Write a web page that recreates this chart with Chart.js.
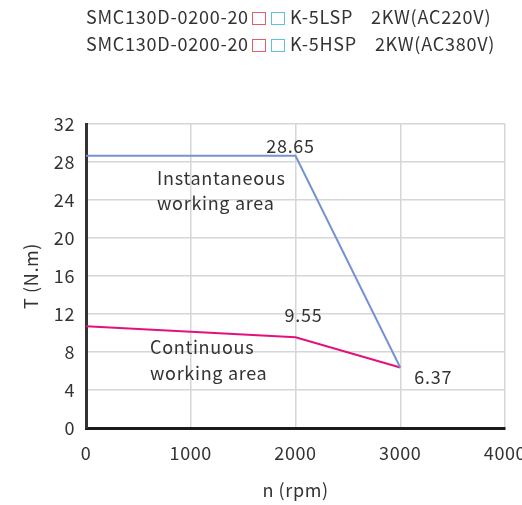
<!DOCTYPE html>
<html>
<head>
<meta charset="utf-8">
<script src="https://cdn.jsdelivr.net/npm/chart.js@4/dist/chart.umd.min.js"></script>
<style>
  html, body { margin: 0; padding: 0; background: #fff; }
  #wrap { position: relative; width: 522px; height: 505px; }
  #head {
    position: absolute; left: 86px; top: 3px;
    font-family: "Noto Sans CJK SC", "Noto Sans", sans-serif;
    font-size: 18px; line-height: 27px; color: #333; letter-spacing: 0.75px;
  }
  #head div { white-space: nowrap; }
  .box { display: inline-block; width: 14px; height: 13px; box-sizing: border-box; vertical-align: -1px; margin-right: 5px; }
  .red { border: 1.5px solid #ea5a64; margin-left: 3px; }
  .blue { border: 1.5px solid #5cc0ea; }
  .gap { display: inline-block; width: 18px; }
</style>
</head>
<body>
<div id="wrap">
  <canvas id="torque" width="522" height="505"></canvas>
  <div id="head">
    <div>SMC130D-0200-20<span class="box red"></span><span class="box blue"></span>K-5LSP<span class="gap"></span>2KW(AC220V)</div>
    <div>SMC130D-0200-20<span class="box red"></span><span class="box blue"></span>K-5HSP<span class="gap"></span>2KW(AC380V)</div>
  </div>
</div>
<script>
// Torque-speed curve data
const speeds = [0, 2000, 3000];
const peakTorque = [28.65, 28.65, 6.37];
const ratedTorque = [10.7, 9.55, 6.37];
const xTicks = [0, 1000, 2000, 3000, 4000];
const yTicks = [0, 4, 8, 12, 16, 20, 24, 28, 32];

const FONT = '"Noto Sans CJK SC", "Noto Sans", sans-serif';
const TEXT = '#333';

// value labels and area captions, anchored in data coords
const notes = [
  { text: '28.65', x: 2000, y: 28.65, dx: -5, dy: -10 },
  { text: '9.55', x: 2000, y: 9.55, dx: 8, dy: -22 },
  { text: '6.37', x: 3000, y: 6.37, dx: 33, dy: 10 },
];
const captions = [
  { lines: ['Instantaneous', 'working area'], x: 678, y: 26.3 },
  { lines: ['Continuous', 'working area'], x: 611, y: 8.5 },
];

const notesPlugin = {
  id: 'notes',
  beforeDraw(chart) {
    chart.ctx.letterSpacing = '0.6px';
  },
  afterDatasetsDraw(chart) {
    const { ctx, scales: { x, y } } = chart;
    ctx.save();
    ctx.font = '18px ' + FONT;
    ctx.letterSpacing = '0.7px';
    ctx.fillStyle = TEXT;
    ctx.textBaseline = 'middle';
    ctx.textAlign = 'center';
    notes.forEach(n => {
      ctx.fillText(n.text, x.getPixelForValue(n.x) + n.dx, y.getPixelForValue(n.y) + n.dy);
    });
    ctx.textAlign = 'left';
    captions.forEach(c => {
      const px = x.getPixelForValue(c.x), py = y.getPixelForValue(c.y);
      c.lines.forEach((l, i) => ctx.fillText(l, px, py + i * 25.5));
    });
    ctx.restore();
  }
};

new Chart(document.getElementById('torque'), {
  type: 'line',
  data: {
    datasets: [
      {
        label: 'Instantaneous',
        data: speeds.map((s, i) => ({ x: s, y: peakTorque[i] })),
        borderColor: '#7592d4',
        borderWidth: 2,
        pointRadius: 0,
        tension: 0
      },
      {
        label: 'Continuous',
        data: speeds.map((s, i) => ({ x: s, y: ratedTorque[i] })),
        borderColor: '#e2127d',
        borderWidth: 2,
        pointRadius: 0,
        tension: 0
      }
    ]
  },
  options: {
    responsive: false,
    animation: false,
    layout: { padding: { top: 124, right: 17, left: 0, bottom: 0 } },
    plugins: { legend: { display: false }, tooltip: { enabled: false } },
    scales: {
      x: {
        type: 'linear',
        min: 0, max: 4000,
        afterBuildTicks: s => { s.ticks = xTicks.map(v => ({ value: v })); },
        afterFit: s => { s.paddingRight = 0; s.paddingLeft = 0; s.height = 77; },
        grid: { color: '#d6d6d6', lineWidth: 1.5, drawTicks: false },
        border: { color: '#1a1a1a', width: 3 },
        ticks: { color: TEXT, padding: 14, maxRotation: 0, font: { family: FONT, size: 18 }, callback: v => String(v) },
        title: { display: true, text: 'n (rpm)', color: TEXT, padding: { top: 10 }, font: { family: FONT, size: 18 } }
      },
      y: {
        min: 0, max: 32,
        afterBuildTicks: s => { s.ticks = yTicks.map(v => ({ value: v })); },
        afterFit: s => { s.width = 86; },
        grid: { color: '#d6d6d6', lineWidth: 1.5, drawTicks: false },
        border: { color: '#333', width: 3 },
        ticks: { color: TEXT, padding: 11, font: { family: FONT, size: 18 }, callback: v => String(v) },
        title: { display: true, text: 'T (N.m)', color: TEXT, padding: { bottom: 0, top: 20 }, font: { family: FONT, size: 18 } }
      }
    }
  },
  plugins: [notesPlugin]
});
</script>
</body>
</html>
